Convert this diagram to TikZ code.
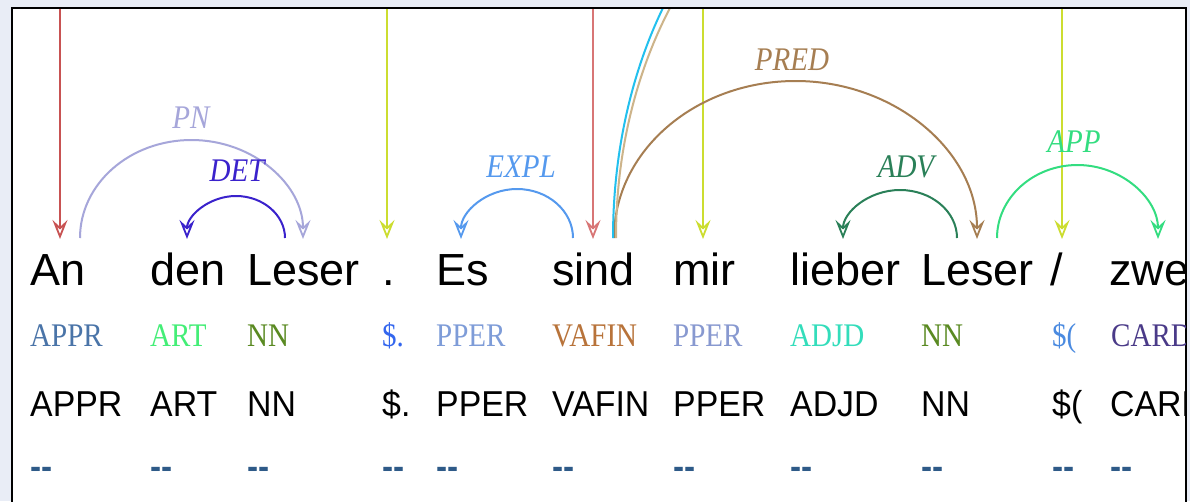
\documentclass[tikz,border=0pt]{standalone}
\usepackage{fontspec}
\setmainfont{Liberation Serif}
\setsansfont{Liberation Sans}
\usetikzlibrary{arrows.meta}

% page and frame
\definecolor{pagebg}{HTML}{E9EDF6}
% incoming root / punctuation edges
\definecolor{rootred}{HTML}{C85252}
\definecolor{rootredb}{HTML}{D87676}
\definecolor{punctlime}{HTML}{CCDD30}
% dependency relations
\definecolor{pncol}{HTML}{A6A6DA}
\definecolor{detcol}{HTML}{3A22CC}
\definecolor{explcol}{HTML}{5599EE}
\definecolor{predcol}{HTML}{A67E52}
\definecolor{advcol}{HTML}{2A8058}
\definecolor{appcol}{HTML}{33DD80}
\definecolor{cyancol}{HTML}{22C0EE}
\definecolor{beigecol}{HTML}{CDB48A}
% tag colours
\definecolor{tAPPR}{HTML}{4A74A8}
\definecolor{tART}{HTML}{44EE77}
\definecolor{tNN}{HTML}{5A8A22}
\definecolor{tPUNa}{HTML}{3366EE}
\definecolor{tPPERa}{HTML}{7E9CD8}
\definecolor{tVAFIN}{HTML}{B8733A}
\definecolor{tPPERb}{HTML}{8899D0}
\definecolor{tADJD}{HTML}{33DDBB}
\definecolor{tPUNb}{HTML}{4A8AE0}
\definecolor{tCARD}{HTML}{4A3A88}
\definecolor{dashcol}{HTML}{2E5A88}

\begin{document}
\begin{tikzpicture}[x=1pt,y=-1pt,
  word/.style={font=\sffamily\fontsize{45}{45}\selectfont, anchor=base west, inner sep=0pt},
  tagc/.style={font=\rmfamily\fontsize{33}{33}\selectfont, anchor=base west, inner sep=0pt, xscale=0.88},
  tagb/.style={font=\sffamily\fontsize{36}{36}\selectfont, anchor=base west, inner sep=0pt, xscale=0.94},
  lemma/.style={font=\sffamily\bfseries\fontsize{35}{35}\selectfont, anchor=base west, inner sep=0pt, text=dashcol, xscale=0.95},
  rel/.style={font=\rmfamily\itshape\fontsize{33}{33}\selectfont, inner sep=0pt, xscale=0.88},
  dep/.style={line width=2pt, -{Stealth[open,length=19pt,width=15pt,inset=7pt,line width=1.8pt]}},
  bigarc/.style={line width=2pt},
]
\useasboundingbox (0,0) rectangle (1190,501);
\fill[pagebg] (0,0) rectangle (1190,501);
\filldraw[fill=white, draw=black, line width=2pt] (12,8) rectangle (1186,530);

\begin{scope}
\clip (13,9) rectangle (1185,501);

% ---- token columns ----
\node[word] (w1)  at (30,285)   {An};
\node[word] (w2)  at (150,285)  {den};
\node[word] (w3)  at (247,285)  {Leser};
\node[word] (w4)  at (382,285)  {.};
\node[word] (w5)  at (436,285)  {Es};
\node[word] (w6)  at (552,285)  {sind};
\node[word] (w7)  at (673,285)  {mir};
\node[word] (w8)  at (790,285)  {lieber};
\node[word] (w9)  at (921,285)  {Leser};
\node[word] (w10) at (1050,285) {/};
\node[word] (w11) at (1109,285) {zwei};

% coloured tag row
\node[tagc, text=tAPPR]  (p1)  at (30,346)   {APPR};
\node[tagc, text=tART]   (p2)  at (150,346)  {ART};
\node[tagc, text=tNN]    (p3)  at (247,346)  {NN};
\node[tagc, text=tPUNa]  (p4)  at (382,346)  {\$.};
\node[tagc, text=tPPERa] (p5)  at (436,346)  {PPER};
\node[tagc, text=tVAFIN] (p6)  at (552,346)  {VAFIN};
\node[tagc, text=tPPERb] (p7)  at (673,346)  {PPER};
\node[tagc, text=tADJD]  (p8)  at (790,346)  {ADJD};
\node[tagc, text=tNN]    (p9)  at (921,346)  {NN};
\node[tagc, text=tPUNb]  (p10) at (1052,346) {\$(};
\node[tagc, text=tCARD]  (p11) at (1111,346) {CARD};

% plain tag row and lemma row
\foreach \i/\x/\t in {1/30/APPR, 2/150/ART, 3/247/NN, 4/382/\$., 5/436/PPER,
                       6/552/VAFIN, 7/673/PPER, 8/790/ADJD, 9/921/NN,
                       10/1052/\$(, 11/1110/CARD}
{
  \node[tagb] (t\i) at (\x,416) {\t};
  \node[lemma] (l\i) at (\x,478) {-{}-};
}

% ---- edge end points ----
\foreach \n/\x in {an/60, dot/387, sind/593, mir/703, slash/1062}
{
  \coordinate (\n-top) at (\x,9);
  \coordinate (\n-in)  at (\x,239);
}
\coordinate (pnS) at (80,238);     \coordinate (pnT) at (191.5,140);   \coordinate (pnE) at (303,239);
\coordinate (detS) at (285,238);   \coordinate (detT) at (236,196);    \coordinate (detE) at (187,239);
\coordinate (explS) at (573,238);  \coordinate (explT) at (517,189);   \coordinate (explE) at (461,239);
\coordinate (predS) at (614,238);  \coordinate (predT) at (795.5,81);  \coordinate (predE) at (977,239);
\coordinate (advS) at (957,238);   \coordinate (advT) at (900,190);    \coordinate (advE) at (843,239);
\coordinate (appS) at (997,238);   \coordinate (appT) at (1077.5,165); \coordinate (appE) at (1158,239);
\coordinate (cyS) at (613,238);    \coordinate (cyT) at (888,-162);
\coordinate (bgS) at (616,238);    \coordinate (bgT) at (913,-162);

% ---- incoming edges from above ----
\draw[dep, rootred]   (an-top) -- (an-in);
\draw[dep, punctlime] (dot-top) -- (dot-in);
\draw[dep, rootredb]  (sind-top) -- (sind-in);
\draw[dep, punctlime] (mir-top) -- (mir-in);
\draw[dep, punctlime, line width=2.6pt] (slash-top) -- (slash-in);

% ---- dependency arcs ----
\draw[dep, pncol] (pnS) .. controls +(0,-54) and +(-62,0) .. (pnT)
                        .. controls +(62,0) and +(0,-54) .. (pnE);
\draw[dep, detcol] (detS) .. controls +(0,-23) and +(27,0) .. (detT)
                          .. controls +(-27,0) and +(0,-23) .. (detE);
\draw[dep, explcol] (explS) .. controls +(0,-27) and +(31,0) .. (explT)
                            .. controls +(-31,0) and +(0,-27) .. (explE);
\draw[dep, predcol] (predS) .. controls +(0,-87) and +(-100,0) .. (predT)
                            .. controls +(100,0) and +(0,-87) .. (predE);
\draw[dep, advcol] (advS) .. controls +(0,-26.5) and +(31.5,0) .. (advT)
                          .. controls +(-31.5,0) and +(0,-26.5) .. (advE);
\draw[dep, appcol] (appS) .. controls +(0,-40) and +(-44.5,0) .. (appT)
                          .. controls +(44.5,0) and +(0,-40) .. (appE);

% long arcs from "sind" leaving the frame
\draw[bigarc, beigecol] (bgS) .. controls +(0,-221) and +(-164,0) .. (bgT);
\draw[bigarc, cyancol]  (cyS) .. controls +(0,-221) and +(-152,0) .. (cyT);

% ---- relation labels ----
\node[rel, text=pncol]   (lpn)   at (191,118) {PN};
\node[rel, text=detcol]  (ldet)  at (237,171) {DET};
\node[rel, text=explcol] (lexpl) at (521,167) {EXPL};
\node[rel, text=predcol] (lpred) at (792,60)  {PRED};
\node[rel, text=advcol]  (ladv)  at (906,167) {ADV};
\node[rel, text=appcol]  (lapp)  at (1074,142) {APP};
\end{scope}
\end{tikzpicture}
\end{document}
